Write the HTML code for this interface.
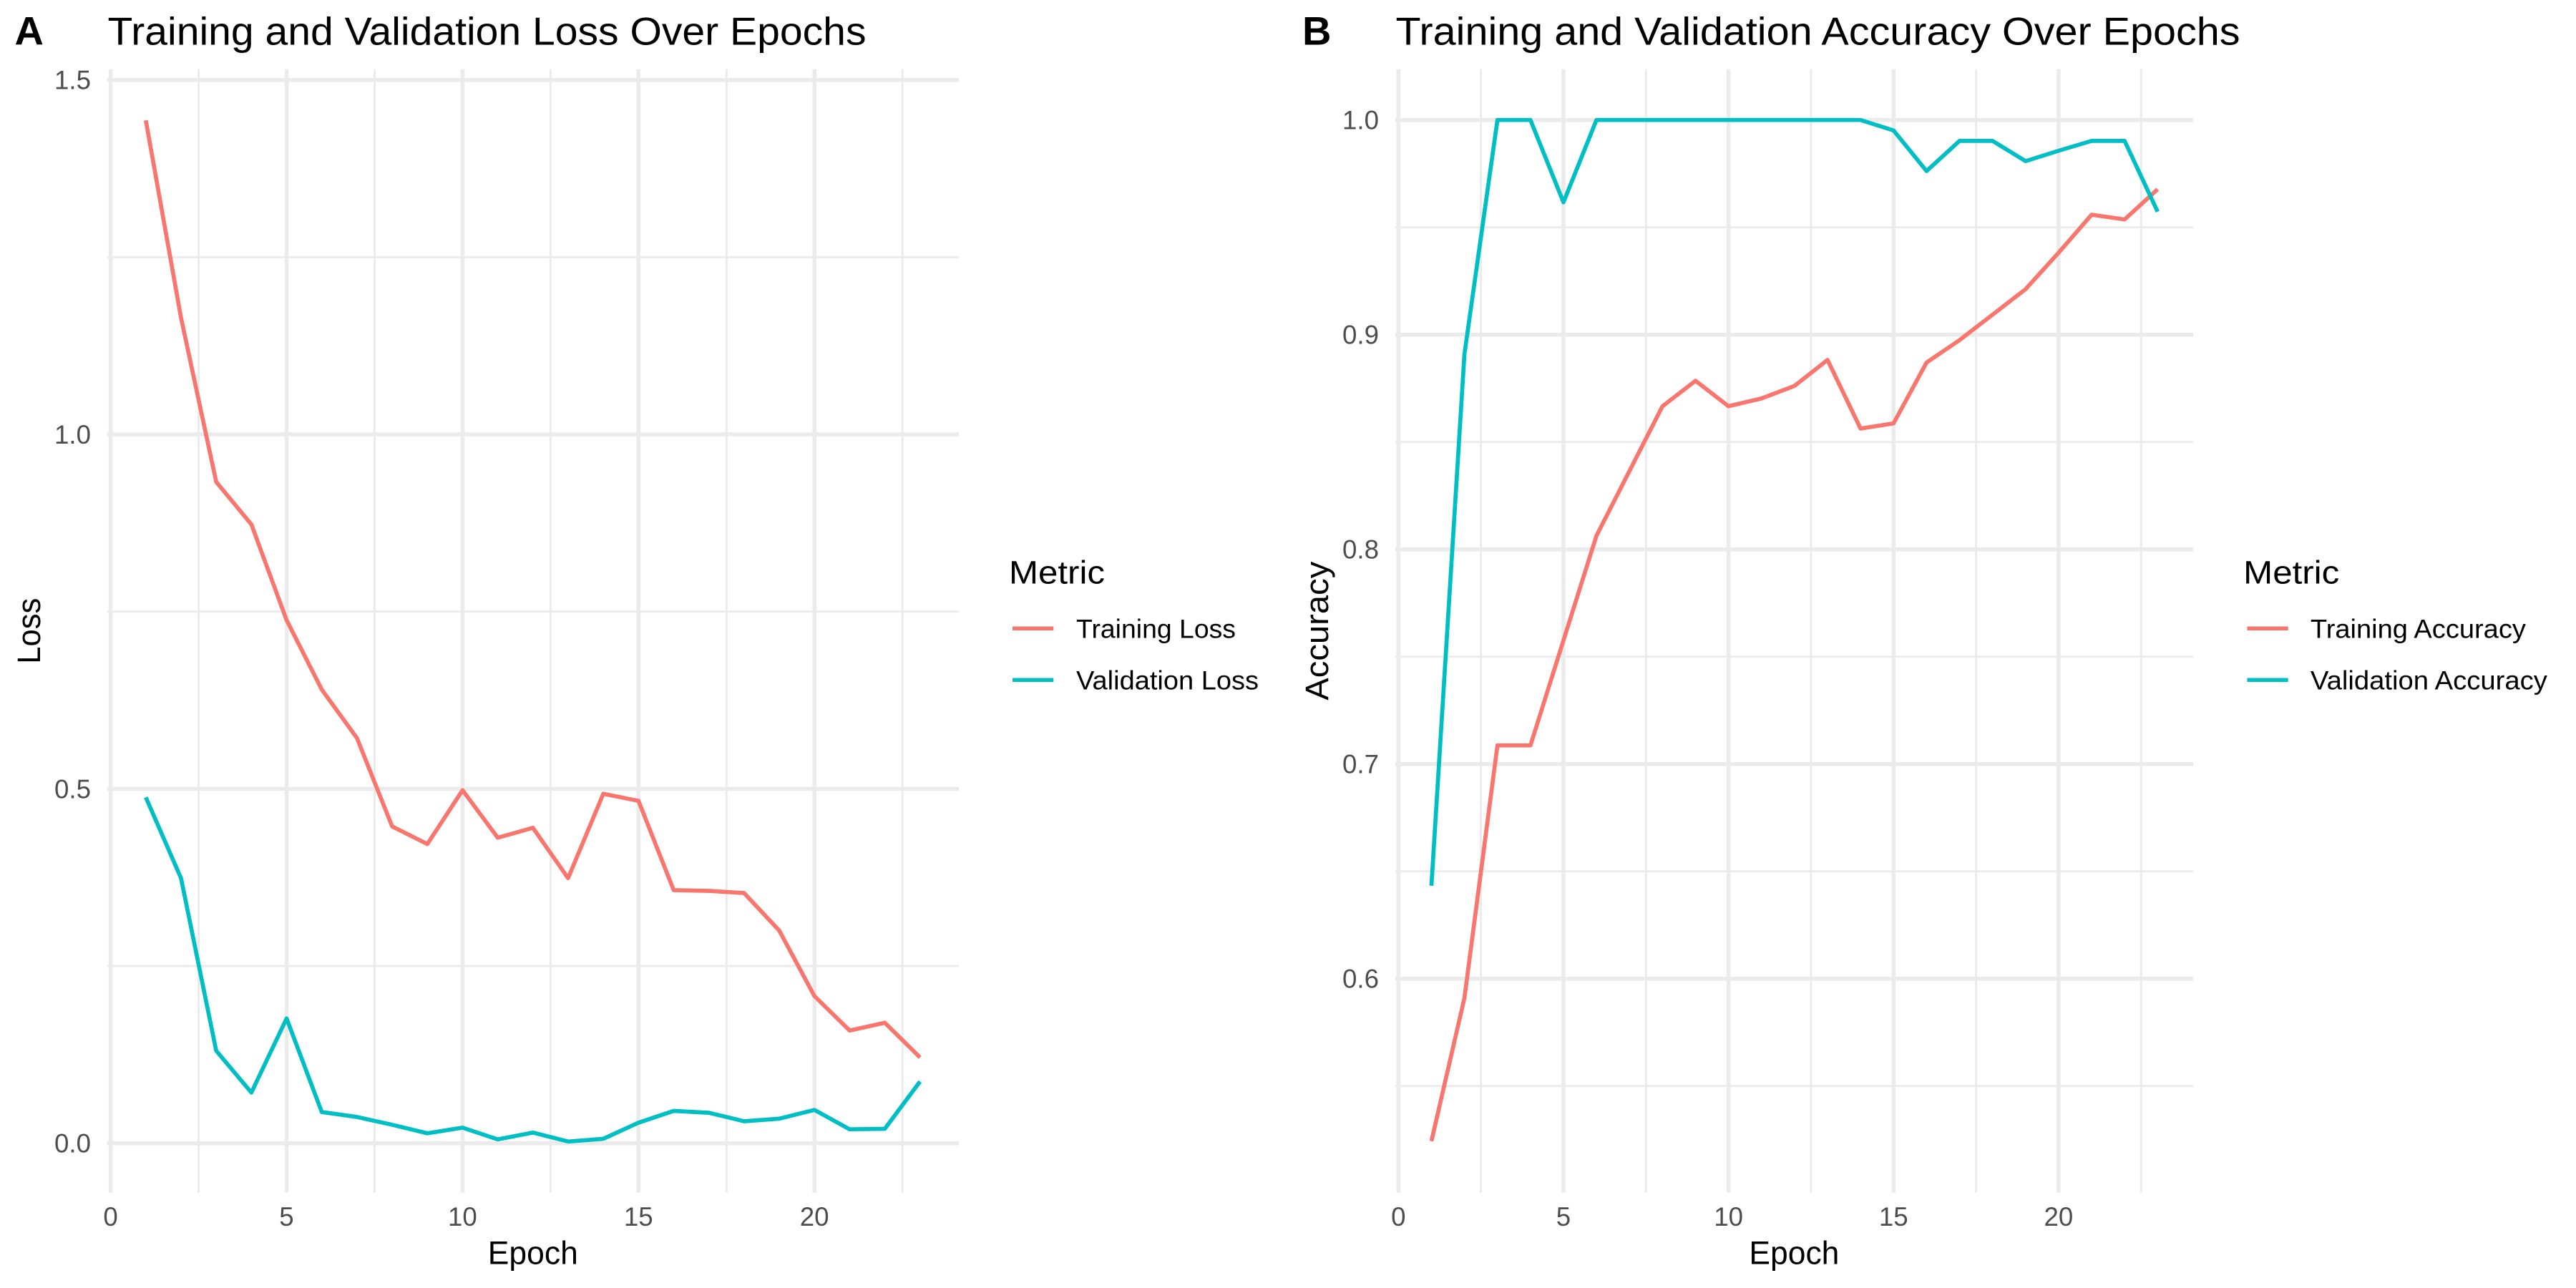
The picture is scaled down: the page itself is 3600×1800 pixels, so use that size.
<!DOCTYPE html>
<html>
<head>
<meta charset="utf-8">
<style>
html,body{margin:0;padding:0;background:#fff;}
svg{display:block;}
text{font-family:"Liberation Sans", sans-serif;}
</style>
</head>
<body>
<svg width="3600" height="1800" viewBox="0 0 3600 1800" xmlns="http://www.w3.org/2000/svg">
<rect width="3600" height="1800" fill="#fff"/>

<!-- ============ PANEL A ============ -->
<g stroke="#EBEBEB" fill="none">
  <!-- minor horizontal -->
  <g stroke-width="2.9">
    <line x1="149.7" x2="1339.9" y1="1350.0" y2="1350.0"/>
    <line x1="149.7" x2="1339.9" y1="854.7" y2="854.7"/>
    <line x1="149.7" x2="1339.9" y1="359.4" y2="359.4"/>
    <!-- minor vertical -->
    <line x1="277.6" x2="277.6" y1="96.7" y2="1666.7"/>
    <line x1="523.5" x2="523.5" y1="96.7" y2="1666.7"/>
    <line x1="769.4" x2="769.4" y1="96.7" y2="1666.7"/>
    <line x1="1015.3" x2="1015.3" y1="96.7" y2="1666.7"/>
    <line x1="1261.2" x2="1261.2" y1="96.7" y2="1666.7"/>
  </g>
  <g stroke-width="5.5">
    <line x1="149.7" x2="1339.9" y1="1597.7" y2="1597.7"/>
    <line x1="149.7" x2="1339.9" y1="1102.4" y2="1102.4"/>
    <line x1="149.7" x2="1339.9" y1="607.0" y2="607.0"/>
    <line x1="149.7" x2="1339.9" y1="111.7" y2="111.7"/>
    <line x1="154.6" x2="154.6" y1="96.7" y2="1666.7"/>
    <line x1="400.5" x2="400.5" y1="96.7" y2="1666.7"/>
    <line x1="646.4" x2="646.4" y1="96.7" y2="1666.7"/>
    <line x1="892.3" x2="892.3" y1="96.7" y2="1666.7"/>
    <line x1="1138.2" x2="1138.2" y1="96.7" y2="1666.7"/>
  </g>
</g>

<polyline fill="none" stroke="#F8766D" stroke-width="5.7" stroke-linejoin="round" points="203.78,168.2 252.96,444.0 302.14,673.4 351.32,732.9 400.5,866.6 449.68,963.7 498.86,1031.5 548.04,1154.9 597.22,1179.6 646.4,1104.3 695.58,1170.7 744.76,1156.9 793.94,1227.2 843.12,1109.3 892.3,1119.2 941.48,1244.0 990.66,1245.0 1039.84,1248.0 1089.02,1300.5 1138.2,1392.1 1187.38,1440.2 1236.56,1429.3 1285.74,1477.8"/>
<polyline fill="none" stroke="#00BFC4" stroke-width="5.7" stroke-linejoin="round" points="203.78,1114.3 252.96,1227.2 302.14,1468.4 351.32,1526.9 400.5,1423.3 449.68,1554.1 498.86,1561.0 548.04,1571.9 597.22,1583.8 646.4,1575.9 695.58,1592.3 744.76,1582.8 793.94,1595.3 843.12,1591.5 892.3,1569.0 941.48,1552.5 990.66,1555.1 1039.84,1567.0 1089.02,1563.4 1138.2,1551.1 1187.38,1578.2 1236.56,1577.5 1285.74,1511.5"/>

<!-- y tick labels A -->
<g fill="#4D4D4D" font-size="36.67" text-anchor="end">
  <text x="127" y="1610.7">0.0</text>
  <text x="127" y="1115.4">0.5</text>
  <text x="127" y="620.0">1.0</text>
  <text x="127" y="124.7">1.5</text>
</g>
<!-- x tick labels A -->
<g fill="#4D4D4D" font-size="36.67" text-anchor="middle">
  <text x="154.6" y="1713">0</text>
  <text x="400.5" y="1713">5</text>
  <text x="646.4" y="1713">10</text>
  <text x="892.3" y="1713">15</text>
  <text x="1138.2" y="1713">20</text>
</g>
<!-- axis titles A -->
<text x="744.8" y="1766.7" font-size="45.8" text-anchor="middle" fill="#000" textLength="126" lengthAdjust="spacingAndGlyphs">Epoch</text>
<text transform="translate(56,881.7) rotate(-90)" x="0" y="0" font-size="45.8" text-anchor="middle" fill="#000" textLength="92" lengthAdjust="spacingAndGlyphs">Loss</text>
<!-- tag + title A -->
<text x="20.5" y="62.7" font-size="56" font-weight="bold" fill="#000">A</text>
<text x="150.5" y="62.7" font-size="55" fill="#000" textLength="1060" lengthAdjust="spacingAndGlyphs">Training and Validation Loss Over Epochs</text>
<!-- legend A -->
<text x="1410" y="815.7" font-size="45.8" fill="#000" textLength="134" lengthAdjust="spacingAndGlyphs">Metric</text>
<line x1="1415" x2="1472.3" y1="878.3" y2="878.3" stroke="#F8766D" stroke-width="5.5"/>
<line x1="1415" x2="1472.3" y1="950.3" y2="950.3" stroke="#00BFC4" stroke-width="5.5"/>
<text x="1504" y="891.7" font-size="36.67" fill="#000" textLength="223" lengthAdjust="spacingAndGlyphs">Training Loss</text>
<text x="1504" y="963.3" font-size="36.67" fill="#000" textLength="255" lengthAdjust="spacingAndGlyphs">Validation Loss</text>

<!-- ============ PANEL B ============ -->
<g stroke="#EBEBEB" fill="none">
  <g stroke-width="2.9">
    <line x1="1949.7" x2="3065" y1="1517.7" y2="1517.7"/>
    <line x1="1949.7" x2="3065" y1="1217.7" y2="1217.7"/>
    <line x1="1949.7" x2="3065" y1="917.7" y2="917.7"/>
    <line x1="1949.7" x2="3065" y1="617.7" y2="617.7"/>
    <line x1="1949.7" x2="3065" y1="317.7" y2="317.7"/>
    <line x1="2069.6" x2="2069.6" y1="96.7" y2="1666.7"/>
    <line x1="2300.3" x2="2300.3" y1="96.7" y2="1666.7"/>
    <line x1="2530.9" x2="2530.9" y1="96.7" y2="1666.7"/>
    <line x1="2761.6" x2="2761.6" y1="96.7" y2="1666.7"/>
    <line x1="2992.2" x2="2992.2" y1="96.7" y2="1666.7"/>
  </g>
  <g stroke-width="5.5">
    <line x1="1949.7" x2="3065" y1="1367.7" y2="1367.7"/>
    <line x1="1949.7" x2="3065" y1="1067.7" y2="1067.7"/>
    <line x1="1949.7" x2="3065" y1="767.7" y2="767.7"/>
    <line x1="1949.7" x2="3065" y1="467.7" y2="467.7"/>
    <line x1="1949.7" x2="3065" y1="167.7" y2="167.7"/>
    <line x1="1954.3" x2="1954.3" y1="96.7" y2="1666.7"/>
    <line x1="2184.95" x2="2184.95" y1="96.7" y2="1666.7"/>
    <line x1="2415.6" x2="2415.6" y1="96.7" y2="1666.7"/>
    <line x1="2646.25" x2="2646.25" y1="96.7" y2="1666.7"/>
    <line x1="2876.9" x2="2876.9" y1="96.7" y2="1666.7"/>
  </g>
</g>

<polyline fill="none" stroke="#F8766D" stroke-width="5.7" stroke-linejoin="round" points="2000.43,1594.8 2046.56,1394.7 2092.69,1041.7 2138.82,1041.7 2184.95,895.0 2231.08,748.7 2277.21,658.2 2323.34,567.7 2369.47,532.1 2415.6,567.7 2461.73,556.8 2507.86,539.3 2553.99,503.0 2600.12,598.9 2646.25,591.7 2692.38,506.6 2738.51,475.3 2784.64,439.7 2830.77,404.1 2876.9,353.2 2923.03,300.1 2969.16,306.7 3015.29,264.5"/>
<polyline fill="none" stroke="#00BFC4" stroke-width="5.7" stroke-linejoin="round" points="2000.43,1237.8 2046.56,495.0 2092.69,167.7 2138.82,167.7 2184.95,282.7 2231.08,167.7 2277.21,167.7 2323.34,167.7 2369.47,167.7 2415.6,167.7 2461.73,167.7 2507.86,167.7 2553.99,167.7 2600.12,167.7 2646.25,182.3 2692.38,239.0 2738.51,196.9 2784.64,196.9 2830.77,225.2 2876.9,210.7 2923.03,196.9 2969.16,196.9 3015.29,295.8"/>

<!-- y tick labels B -->
<g fill="#4D4D4D" font-size="36.67" text-anchor="end">
  <text x="1927" y="1380.7">0.6</text>
  <text x="1927" y="1080.7">0.7</text>
  <text x="1927" y="780.7">0.8</text>
  <text x="1927" y="480.7">0.9</text>
  <text x="1927" y="180.7">1.0</text>
</g>
<!-- x tick labels B -->
<g fill="#4D4D4D" font-size="36.67" text-anchor="middle">
  <text x="1954.3" y="1713">0</text>
  <text x="2184.95" y="1713">5</text>
  <text x="2415.6" y="1713">10</text>
  <text x="2646.25" y="1713">15</text>
  <text x="2876.9" y="1713">20</text>
</g>
<!-- axis titles B -->
<text x="2507.4" y="1766.7" font-size="45.8" text-anchor="middle" fill="#000" textLength="126" lengthAdjust="spacingAndGlyphs">Epoch</text>
<text transform="translate(1856,881.7) rotate(-90)" x="0" y="0" font-size="45.8" text-anchor="middle" fill="#000" textLength="194" lengthAdjust="spacingAndGlyphs">Accuracy</text>
<!-- tag + title B -->
<text x="1820" y="62.7" font-size="56" font-weight="bold" fill="#000">B</text>
<text x="1950.5" y="62.7" font-size="55" fill="#000" textLength="1180" lengthAdjust="spacingAndGlyphs">Training and Validation Accuracy Over Epochs</text>
<!-- legend B -->
<text x="3135.2" y="815.7" font-size="45.8" fill="#000" textLength="134" lengthAdjust="spacingAndGlyphs">Metric</text>
<line x1="3140.5" x2="3197.7" y1="878.3" y2="878.3" stroke="#F8766D" stroke-width="5.5"/>
<line x1="3140.5" x2="3197.7" y1="950.3" y2="950.3" stroke="#00BFC4" stroke-width="5.5"/>
<text x="3228.9" y="891.7" font-size="36.67" fill="#000" textLength="301" lengthAdjust="spacingAndGlyphs">Training Accuracy</text>
<text x="3228.9" y="963.3" font-size="36.67" fill="#000" textLength="331" lengthAdjust="spacingAndGlyphs">Validation Accuracy</text>
</svg>
</body>
</html>
